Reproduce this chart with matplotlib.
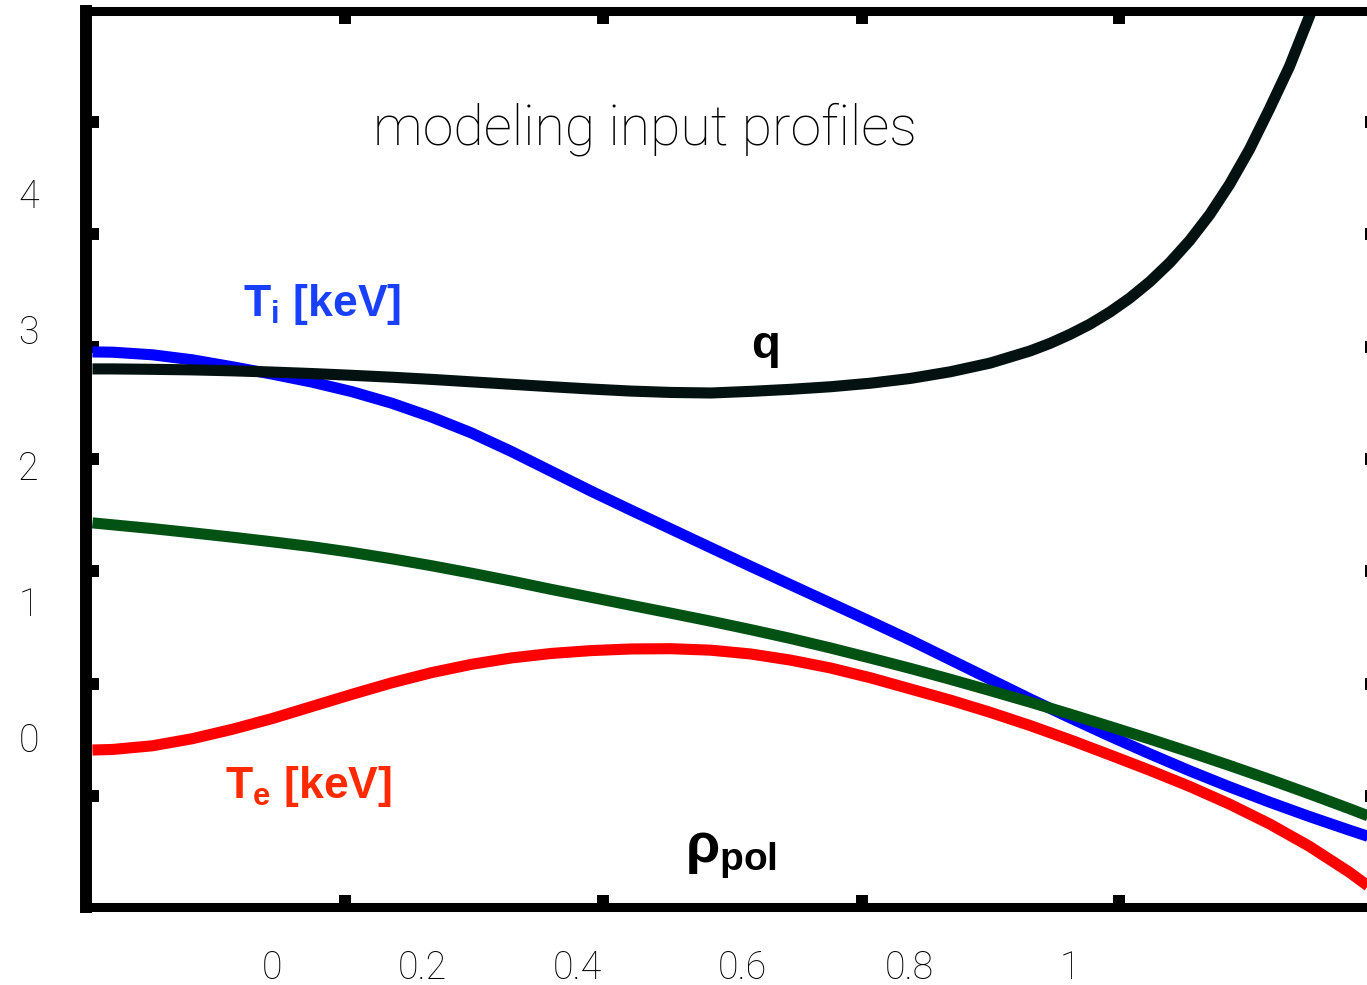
import numpy as np
import matplotlib.pyplot as plt

plt.rcParams['font.family'] = ['Roboto', 'DejaVu Sans']
plt.rcParams['font.weight'] = 'light'
plt.rcParams['mathtext.fontset'] = 'custom'
plt.rcParams['mathtext.rm'] = 'Liberation Sans:bold'
plt.rcParams['mathtext.it'] = 'Liberation Sans:bold'
plt.rcParams['mathtext.bf'] = 'Liberation Sans:bold'

# --- profiles (x = rho_pol) ---
rho = [-0.225, -0.2, -0.15, -0.1, -0.05, 0.0, 0.05, 0.1, 0.15, 0.2, 0.25,
       0.3, 0.35, 0.4, 0.45, 0.5, 0.55, 0.6, 0.65, 0.7, 0.75, 0.8, 0.85,
       0.9, 0.95, 1.0, 1.05, 1.1, 1.15, 1.2, 1.25, 1.3, 1.35, 1.385]
ti = [2.831, 2.829, 2.810, 2.773, 2.722, 2.668, 2.609, 2.539, 2.454, 2.352,
      2.235, 2.099, 1.953, 1.807, 1.667, 1.529, 1.391, 1.254, 1.119, 0.984,
      0.849, 0.712, 0.568, 0.424, 0.280, 0.141, 0.006, -0.124, -0.249,
      -0.367, -0.479, -0.585, -0.685, -0.753]
ne = [1.574, 1.560, 1.532, 1.501, 1.469, 1.435, 1.399, 1.357, 1.310, 1.259,
      1.204, 1.146, 1.085, 1.027, 0.968, 0.910, 0.851, 0.789, 0.724, 0.654,
      0.580, 0.504, 0.424, 0.341, 0.256, 0.168, 0.077, -0.015, -0.111,
      -0.210, -0.312, -0.418, -0.527, -0.606]
te = [-0.096, -0.092, -0.065, -0.013, 0.056, 0.135, 0.224, 0.313, 0.398,
      0.473, 0.534, 0.581, 0.614, 0.635, 0.647, 0.649, 0.638, 0.610, 0.565,
      0.507, 0.435, 0.353, 0.271, 0.181, 0.084, -0.021, -0.132, -0.245,
      -0.364, -0.494, -0.639, -0.804, -0.994, -1.145]

# q is read more finely where it turns up steeply
rho_q = [-0.225, -0.2, -0.15, -0.1, -0.05, 0.0, 0.05, 0.1, 0.15, 0.2, 0.25,
         0.3, 0.35, 0.4, 0.45, 0.5, 0.55, 0.6, 0.65, 0.7, 0.75, 0.8, 0.85,
         0.9, 0.95, 0.975, 1.0, 1.025, 1.05, 1.075, 1.1, 1.125, 1.15, 1.175,
         1.2, 1.225, 1.25, 1.275, 1.3, 1.325, 1.35]
q = [2.706, 2.706, 2.703, 2.699, 2.692, 2.683, 2.672, 2.659, 2.645, 2.629,
     2.611, 2.593, 2.575, 2.558, 2.543, 2.533, 2.529, 2.541, 2.556, 2.575,
     2.601, 2.636, 2.685, 2.749, 2.838, 2.894, 2.960, 3.035, 3.124, 3.227,
     3.347, 3.487, 3.650, 3.840, 4.063, 4.321, 4.618, 4.929, 5.298, 5.709,
     6.103]

# tick labels (pasted on the slide, not aligned with the tick marks)
x_labels = ['0', '0.2', '0.4', '0.6', '0.8', '1']
x_label_pos = [0.0, 0.188, 0.383, 0.590, 0.799, 1.0]
y_labels = ['0', '1', '2', '3', '4']
y_label_pos = [0, 1, 2, 3, 4]
x_marks = [0.0915, 0.4148, 0.7393, 1.0614]
y_marks = [-0.434, 0.390, 1.221, 2.044, 2.868, 3.699, 4.522]

fig = plt.figure(figsize=(13.67, 9.85), dpi=100)
ax = fig.add_axes([0.0629, 0.0787, 0.9444, 0.9102])

ax.plot(rho, ti, color='#0000ff', lw=8, solid_capstyle='butt')
ax.plot(rho, ne, color='#025214', lw=8, solid_capstyle='butt')
ax.plot(rho, te, color='#ff0000', lw=8, solid_capstyle='butt')
ax.plot(rho_q, q, color='#031210', lw=8, solid_capstyle='butt')

ax.set_xlim(-0.2331, 1.3847)
ax.set_ylim(-1.2537, 5.338)

for side in ['top', 'bottom', 'right']:
    ax.spines[side].set_linewidth(6.5)
ax.spines['left'].set_linewidth(8.6)

ax.set_xticks(x_label_pos, x_labels)
ax.set_yticks(y_label_pos, y_labels)
ax.set_xticks(x_marks, minor=True)
ax.set_yticks(y_marks, minor=True)
ax.tick_params(which='major', length=0, labelsize=27, colors='black')
ax.tick_params(axis='x', which='major', pad=30)
ax.tick_params(axis='y', which='major', pad=34)
ax.tick_params(which='minor', direction='in', length=9, width=8.6,
               top=True, right=True, bottom=True, left=True)

ax.text(0.4674, 4.353, 'modeling input profiles', fontsize=40,
        ha='center', va='baseline', color='black')
ax.text(-0.0363, 3.096, r'T$_i$ [keV]', fontsize=32, fontweight='bold',
        family='Liberation Sans', color='#1940ff', va='baseline')
ax.text(-0.0589, -0.449, r'T$_e$ [keV]', fontsize=32, fontweight='bold',
        family='Liberation Sans', color='#ff2a00', va='baseline')
ax.text(0.618, 2.787, 'q', fontsize=34, fontweight='bold',
        family='Liberation Sans', color='black', ha='center', va='baseline')
ax.text(0.575, -0.919, r'$\rho_{pol}$', fontsize=40,
        color='black', ha='center', va='baseline')

fig.savefig('out.png', dpi=100)
